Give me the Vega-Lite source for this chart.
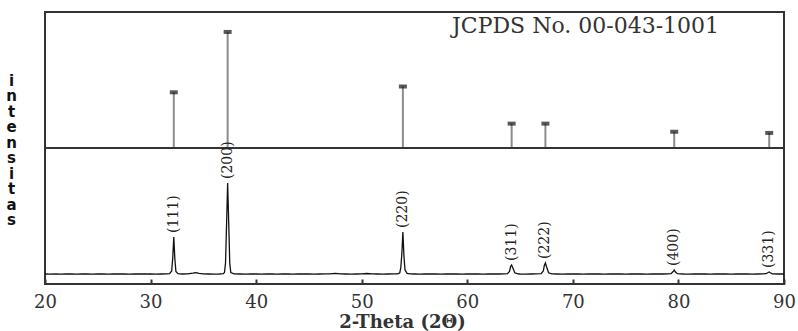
{
  "$schema": "https://vega.github.io/schema/vega-lite/v6.json",
  "autosize": {"type": "none"},
  "padding": {"left": 45, "top": 12, "right": 14, "bottom": 47},
  "width": 739,
  "height": 272,
  "background": "white",
  "config": {
    "view": {"stroke": "#333333", "strokeWidth": 2},
    "axis": {"grid": false}
  },
  "datasets": {
    "reference": [
      {"two_theta": 32.2, "rel": 48},
      {"two_theta": 37.3, "rel": 100},
      {"two_theta": 53.9, "rel": 53},
      {"two_theta": 64.2, "rel": 21},
      {"two_theta": 67.4, "rel": 21},
      {"two_theta": 79.6, "rel": 14},
      {"two_theta": 88.6, "rel": 13}
    ],
    "peaks": [
      {"two_theta": 32.2, "intensity": 470, "hkl": "(111)"},
      {"two_theta": 37.3, "intensity": 1010, "hkl": "(200)"},
      {"two_theta": 53.9, "intensity": 520, "hkl": "(220)"},
      {"two_theta": 64.2, "intensity": 190, "hkl": "(311)"},
      {"two_theta": 67.4, "intensity": 210, "hkl": "(222)"},
      {"two_theta": 79.6, "intensity": 140, "hkl": "(400)"},
      {"two_theta": 88.6, "intensity": 120, "hkl": "(331)"}
    ],
    "pattern": [
      {"two_theta": 20.0, "intensity": 100}, {"two_theta": 20.5, "intensity": 98}, {"two_theta": 21.0, "intensity": 101},
      {"two_theta": 21.5, "intensity": 99}, {"two_theta": 22.0, "intensity": 100}, {"two_theta": 22.5, "intensity": 102},
      {"two_theta": 23.0, "intensity": 99}, {"two_theta": 23.5, "intensity": 101}, {"two_theta": 24.0, "intensity": 100},
      {"two_theta": 24.5, "intensity": 98}, {"two_theta": 25.0, "intensity": 101}, {"two_theta": 25.5, "intensity": 100},
      {"two_theta": 26.0, "intensity": 99}, {"two_theta": 26.5, "intensity": 102}, {"two_theta": 27.0, "intensity": 100},
      {"two_theta": 27.5, "intensity": 101}, {"two_theta": 28.0, "intensity": 99}, {"two_theta": 28.5, "intensity": 100},
      {"two_theta": 29.0, "intensity": 102}, {"two_theta": 29.5, "intensity": 100}, {"two_theta": 30.0, "intensity": 101},
      {"two_theta": 30.5, "intensity": 99}, {"two_theta": 31.0, "intensity": 100}, {"two_theta": 31.5, "intensity": 101},
      {"two_theta": 31.8, "intensity": 103}, {"two_theta": 32.0, "intensity": 130}, {"two_theta": 32.1, "intensity": 260},
      {"two_theta": 32.2, "intensity": 470}, {"two_theta": 32.3, "intensity": 250}, {"two_theta": 32.4, "intensity": 125},
      {"two_theta": 32.6, "intensity": 104}, {"two_theta": 33.0, "intensity": 100}, {"two_theta": 33.5, "intensity": 101},
      {"two_theta": 34.0, "intensity": 108}, {"two_theta": 34.3, "intensity": 114}, {"two_theta": 34.6, "intensity": 107},
      {"two_theta": 35.0, "intensity": 101}, {"two_theta": 35.5, "intensity": 100}, {"two_theta": 36.0, "intensity": 99},
      {"two_theta": 36.5, "intensity": 100}, {"two_theta": 36.9, "intensity": 104}, {"two_theta": 37.0, "intensity": 115},
      {"two_theta": 37.1, "intensity": 210}, {"two_theta": 37.2, "intensity": 600}, {"two_theta": 37.3, "intensity": 1010},
      {"two_theta": 37.4, "intensity": 620}, {"two_theta": 37.5, "intensity": 210}, {"two_theta": 37.6, "intensity": 115},
      {"two_theta": 37.9, "intensity": 102}, {"two_theta": 38.5, "intensity": 100}, {"two_theta": 39.0, "intensity": 99},
      {"two_theta": 39.5, "intensity": 101}, {"two_theta": 40.0, "intensity": 100}, {"two_theta": 40.5, "intensity": 99},
      {"two_theta": 41.0, "intensity": 100}, {"two_theta": 41.5, "intensity": 101}, {"two_theta": 42.0, "intensity": 99},
      {"two_theta": 42.5, "intensity": 100}, {"two_theta": 43.0, "intensity": 101}, {"two_theta": 43.5, "intensity": 99},
      {"two_theta": 44.0, "intensity": 100}, {"two_theta": 44.5, "intensity": 101}, {"two_theta": 45.0, "intensity": 100},
      {"two_theta": 45.5, "intensity": 99}, {"two_theta": 46.0, "intensity": 100}, {"two_theta": 46.5, "intensity": 101},
      {"two_theta": 47.0, "intensity": 102}, {"two_theta": 47.5, "intensity": 106}, {"two_theta": 48.0, "intensity": 101},
      {"two_theta": 48.5, "intensity": 100}, {"two_theta": 49.0, "intensity": 99}, {"two_theta": 49.5, "intensity": 100},
      {"two_theta": 50.0, "intensity": 101}, {"two_theta": 50.5, "intensity": 105}, {"two_theta": 51.0, "intensity": 101},
      {"two_theta": 51.5, "intensity": 100}, {"two_theta": 52.0, "intensity": 99}, {"two_theta": 52.5, "intensity": 100},
      {"two_theta": 53.0, "intensity": 101}, {"two_theta": 53.4, "intensity": 102}, {"two_theta": 53.6, "intensity": 110},
      {"two_theta": 53.7, "intensity": 160}, {"two_theta": 53.8, "intensity": 300}, {"two_theta": 53.9, "intensity": 520},
      {"two_theta": 54.0, "intensity": 280}, {"two_theta": 54.1, "intensity": 140}, {"two_theta": 54.3, "intensity": 106},
      {"two_theta": 54.6, "intensity": 101}, {"two_theta": 55.0, "intensity": 100}, {"two_theta": 55.5, "intensity": 99},
      {"two_theta": 56.0, "intensity": 100}, {"two_theta": 56.5, "intensity": 101}, {"two_theta": 57.0, "intensity": 100},
      {"two_theta": 57.5, "intensity": 99}, {"two_theta": 58.0, "intensity": 100}, {"two_theta": 58.5, "intensity": 101},
      {"two_theta": 59.0, "intensity": 100}, {"two_theta": 59.5, "intensity": 99}, {"two_theta": 60.0, "intensity": 100},
      {"two_theta": 60.5, "intensity": 101}, {"two_theta": 61.0, "intensity": 100}, {"two_theta": 61.5, "intensity": 99},
      {"two_theta": 62.0, "intensity": 100}, {"two_theta": 62.5, "intensity": 101}, {"two_theta": 63.0, "intensity": 100},
      {"two_theta": 63.5, "intensity": 101}, {"two_theta": 63.8, "intensity": 104}, {"two_theta": 64.0, "intensity": 125},
      {"two_theta": 64.1, "intensity": 175}, {"two_theta": 64.2, "intensity": 190}, {"two_theta": 64.3, "intensity": 165},
      {"two_theta": 64.5, "intensity": 112}, {"two_theta": 64.8, "intensity": 102}, {"two_theta": 65.0, "intensity": 100},
      {"two_theta": 65.5, "intensity": 99}, {"two_theta": 66.0, "intensity": 100}, {"two_theta": 66.5, "intensity": 101},
      {"two_theta": 67.0, "intensity": 104}, {"two_theta": 67.2, "intensity": 130}, {"two_theta": 67.3, "intensity": 185},
      {"two_theta": 67.4, "intensity": 210}, {"two_theta": 67.5, "intensity": 175}, {"two_theta": 67.7, "intensity": 112},
      {"two_theta": 68.0, "intensity": 102}, {"two_theta": 68.5, "intensity": 100}, {"two_theta": 69.0, "intensity": 99},
      {"two_theta": 69.5, "intensity": 100}, {"two_theta": 70.0, "intensity": 101}, {"two_theta": 70.5, "intensity": 100},
      {"two_theta": 71.0, "intensity": 99}, {"two_theta": 71.5, "intensity": 100}, {"two_theta": 72.0, "intensity": 101},
      {"two_theta": 72.5, "intensity": 100}, {"two_theta": 73.0, "intensity": 99}, {"two_theta": 73.5, "intensity": 100},
      {"two_theta": 74.0, "intensity": 101}, {"two_theta": 74.5, "intensity": 100}, {"two_theta": 75.0, "intensity": 99},
      {"two_theta": 75.5, "intensity": 100}, {"two_theta": 76.0, "intensity": 101}, {"two_theta": 76.5, "intensity": 100},
      {"two_theta": 77.0, "intensity": 99}, {"two_theta": 77.5, "intensity": 100}, {"two_theta": 78.0, "intensity": 101},
      {"two_theta": 78.5, "intensity": 100}, {"two_theta": 79.0, "intensity": 101}, {"two_theta": 79.3, "intensity": 104},
      {"two_theta": 79.5, "intensity": 125}, {"two_theta": 79.6, "intensity": 140}, {"two_theta": 79.7, "intensity": 122},
      {"two_theta": 79.9, "intensity": 103}, {"two_theta": 80.5, "intensity": 100}, {"two_theta": 81.0, "intensity": 99},
      {"two_theta": 81.5, "intensity": 100}, {"two_theta": 82.0, "intensity": 101}, {"two_theta": 82.5, "intensity": 100},
      {"two_theta": 83.0, "intensity": 99}, {"two_theta": 83.5, "intensity": 100}, {"two_theta": 84.0, "intensity": 101},
      {"two_theta": 84.5, "intensity": 100}, {"two_theta": 85.0, "intensity": 99}, {"two_theta": 85.5, "intensity": 100},
      {"two_theta": 86.0, "intensity": 101}, {"two_theta": 86.5, "intensity": 100}, {"two_theta": 87.0, "intensity": 99},
      {"two_theta": 87.5, "intensity": 100}, {"two_theta": 88.0, "intensity": 101}, {"two_theta": 88.3, "intensity": 103},
      {"two_theta": 88.5, "intensity": 115}, {"two_theta": 88.6, "intensity": 120}, {"two_theta": 88.7, "intensity": 112},
      {"two_theta": 88.9, "intensity": 102}, {"two_theta": 89.5, "intensity": 100}, {"two_theta": 90.0, "intensity": 100}
    ]
  },
  "layer": [
    {
      "layer": [
        {
          "data": {"name": "reference"},
          "mark": {"type": "rule", "color": "#8c8c8c", "strokeWidth": 2},
          "encoding": {
            "x": {
              "field": "two_theta", "type": "quantitative", "scale": {"domain": [20, 90], "nice": false, "zero": false},
              "axis": {
                "title": "2-Theta (2Θ)", "values": [20, 30, 40, 50, 60, 70, 80, 90],
                "domain": false, "grid": false, "ticks": true, "tickSize": -5, "tickWidth": 2, "tickColor": "#333333",
                "labelFont": "DejaVu Serif", "labelFontSize": 18, "labelColor": "#333333", "labelPadding": 14,
                "labelFlush": false, "labelOverlap": false,
                "titleFont": "DejaVu Serif", "titleFontSize": 18, "titleFontWeight": "bold", "titleColor": "#333333",
                "titleX": 357, "titleY": 43, "titleBaseline": "alphabetic", "titleAlign": "center"
              }
            },
            "y": {
              "field": "rel", "type": "quantitative", "scale": {"domain": [-117.2, 117.2], "nice": false, "zero": false},
              "axis": {
                "title": ["i", "n", "t", "e", "n", "s", "i", "t", "a", "s"],
                "labels": false, "ticks": false, "domain": false, "grid": false,
                "titleAngle": 0, "titleX": -34, "titleY": 68,
                "titleAlign": "center", "titleBaseline": "middle",
                "titleFont": "DejaVu Sans", "titleFontSize": 15, "titleFontWeight": "bold",
                "titleLineHeight": 15.5, "titleColor": "#111111"
              }
            },
            "y2": {"datum": 0}
          }
        },
        {
          "data": {"name": "reference"},
          "mark": {"type": "tick", "orient": "horizontal", "size": 8, "thickness": 4, "color": "#111111"},
          "encoding": {
            "x": {"field": "two_theta", "type": "quantitative"},
            "y": {"field": "rel", "type": "quantitative"}
          }
        },
        {
          "data": {"values": [{"label": "JCPDS No. 00-043-1001"}]},
          "mark": {"type": "text", "font": "DejaVu Serif", "fontSize": 22, "color": "#333333", "align": "center", "baseline": "middle"},
          "encoding": {
            "x": {"datum": 71.2},
            "y": {"datum": 105},
            "text": {"field": "label"}
          }
        },
        {
          "data": {"values": [{}]},
          "mark": {"type": "rule", "color": "#333333", "strokeWidth": 2},
          "encoding": {
            "y": {"datum": 0}
          }
        }
      ]
    },
    {
      "layer": [
        {
          "data": {"name": "pattern"},
          "mark": {"type": "line", "color": "#111111", "strokeWidth": 1.3},
          "encoding": {
            "x": {"field": "two_theta", "type": "quantitative"},
            "y": {"field": "intensity", "type": "quantitative", "scale": {"domain": [0, 2720], "nice": false}, "axis": null}
          }
        },
        {
          "data": {"name": "peaks"},
          "mark": {"type": "text", "angle": 270, "align": "left", "baseline": "middle", "dx": 4, "font": "DejaVu Serif", "fontSize": 14, "color": "#222222"},
          "encoding": {
            "x": {"field": "two_theta", "type": "quantitative"},
            "y": {"field": "intensity", "type": "quantitative"},
            "text": {"field": "hkl"}
          }
        }
      ]
    }
  ],
  "resolve": {"scale": {"y": "independent"}}
}
